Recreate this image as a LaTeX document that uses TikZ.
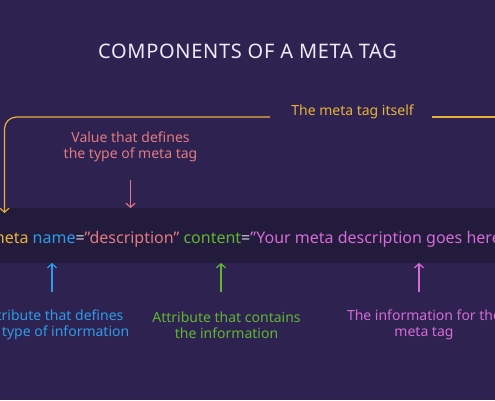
\documentclass[tikz,border=0pt]{standalone}
\usepackage{fontspec}
\setmainfont{Noto Sans}
\usetikzlibrary{arrows.meta}
\definecolor{bg}{HTML}{2E2350}
\definecolor{band}{HTML}{231B3C}
\definecolor{ttl}{HTML}{ECEAF4}
\definecolor{cyel}{HTML}{E8B23A}
\definecolor{cpink}{HTML}{E37A82}
\definecolor{cblue}{HTML}{2F9BE8}
\definecolor{cgreen}{HTML}{62B533}
\definecolor{cmag}{HTML}{D56BD6}
\definecolor{ceq}{HTML}{D8D6E2}
\tikzset{
  lbl/.style={align=center, font=\fontsize{14}{16.5}\selectfont, inner sep=0pt},
  arr/.style={line width=1.2pt, -{Straight Barb[length=4pt,width=9pt,line width=1.2pt]}},
}
\begin{document}
\begin{tikzpicture}[x=1pt,y=-1pt]
\useasboundingbox (0,0) rectangle (495,400);
\clip (0,0) rectangle (495,400);
\fill[bg] (0,0) rectangle (495,400);
\fill[band] (0,208) rectangle (495,263);
\node[text=ttl, font=\fontsize{20}{24}\selectfont, inner sep=0pt] (title) at (247.5,51) {\addfontfeature{LetterSpace=3.5}COMPONENTS OF A META TAG};
% code line
\node[anchor=base west, inner sep=0pt, font=\fontsize{16}{20}\selectfont] (code) at (-19.5,243)
 {\textcolor{cyel}{<meta} \textcolor{cblue}{name}\textcolor{ceq}{=}\textcolor{cpink}{”description”} \textcolor{cgreen}{content}\textcolor{ceq}{=}\textcolor{cmag}{”Your meta description goes here”}};
% top labels
\node[lbl, text=cyel] (self) at (352.5,112) {The meta tag itself};
\node[lbl, text=cpink] (value) at (130.5,147) {Value that defines\\the type of meta tag};
% bottom labels
\node[lbl, text=cblue] (attr1) at (53,325) {Attribute that defines\\the type of information};
\node[lbl, text=cgreen] (attr2) at (226.5,325) {Attribute that contains\\the information};
\node[lbl, text=cmag] (info) at (424,325) {The information for the\\meta tag};
% coordinates
\coordinate (selfL) at (270,117);
\coordinate (selfR) at (432,117);
\coordinate (edgeR) at (496,117);
\coordinate (tagtip) at (4.5,213);
\coordinate (valS) at (130.5,180);
\coordinate (valE) at (130.5,208);
\coordinate (b1S) at (52,292);
\coordinate (b1E) at (52,263);
\coordinate (b2S) at (221,292);
\coordinate (b2E) at (221,263);
\coordinate (b3S) at (419,292);
\coordinate (b3E) at (419,263);
% connectors
\draw[draw=cyel, arr, rounded corners=12pt] (selfL) -| (tagtip);
\draw[draw=cyel, line width=1.2pt] (selfR) -- (edgeR);
\draw[draw=cpink, arr] (valS) -- (valE);
\draw[draw=cblue, arr] (b1S) -- (b1E);
\draw[draw=cgreen, arr] (b2S) -- (b2E);
\draw[draw=cmag, arr] (b3S) -- (b3E);
\end{tikzpicture}
\end{document}
